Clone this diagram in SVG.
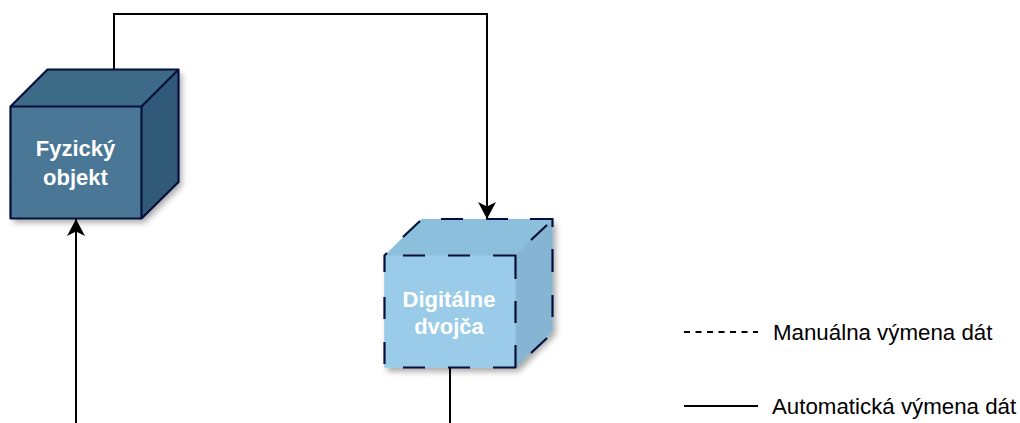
<svg xmlns="http://www.w3.org/2000/svg" width="1020" height="423" viewBox="0 0 1020 423">
<style>
.c{fill:none;stroke:#000;stroke-width:2}
.o{fill:none;stroke:#060f3c;stroke-width:2.200;stroke-linejoin:round}
.t{font-family:"Liberation Sans",Arial,sans-serif;font-weight:700;font-size:22px;fill:#fff;text-anchor:middle}
.l{font-family:"Liberation Sans",Arial,sans-serif;font-size:22.3px;fill:#000}
</style>
<defs>
<marker id="a" markerUnits="userSpaceOnUse" markerWidth="19" markerHeight="20" refX="17" refY="9.500" orient="auto"><path d="M0 .5L17 9.500L0 18.500L4.500 9.500Z" fill="#000"/></marker>
<filter id="s" x="-15%" y="-15%" width="135%" height="135%"><feDropShadow dx="3" dy="4" stdDeviation="3" flood-color="#000" flood-opacity=".35"/></filter>
</defs>
<g id="connectors">
<path class="c" d="M114 69V14H487V219" marker-end="url(#a)"/>
<path class="c" d="M76 423V219" marker-end="url(#a)"/>
<path class="c" d="M450 368V423"/>
</g>
<g id="fyzicky-objekt">
<path d="M10.500 106.500L47.500 69.500H178.500V182L141.500 218.500H10.500Z" fill="#3d6a87" filter="url(#s)"/>
<path d="M141.500 106.500L178.500 69.500V182L141.500 218.500Z" fill="#315a79"/>
<rect x="10.500" y="106.500" width="131" height="112" fill="#4a7795"/>
<path class="o" d="M10.500 106.500L47.500 69.500H178.500V182L141.500 218.500H10.500ZM10.500 106.500H141.500V218.500M141.500 106.500L178.500 69.500"/>
<text class="t" x="75.500" y="156">Fyzický</text>
<text class="t" x="75.500" y="185">objekt</text>
</g>
<g id="digitalne-dvojca">
<path d="M384.500 255.500L421.500 219H552.500V331L515.500 367.500H384.500Z" fill="#8bbfdc" filter="url(#s)"/>
<path d="M515.500 255.500L552.500 219V331L515.500 367.500Z" fill="#85b5d3"/>
<rect x="384.500" y="255.500" width="131" height="112" fill="#9acbe8"/>
<path class="o" d="M384.500 272V255.500L387 253M403 237L420 221M441 219H463M486 219H508M530 219H552.500V227M552.500 249V272M552.500 295V317M547 338L531 353M531 240L547 225M403 255.500H425M448 255.500H470M493 255.500H515.500V279M515.500 301V323M515.500 345V367.500H493M470 367.500H448M425 367.500H403M384.500 364V342M384.500 319V297"/>
<text class="t" x="449" y="307">Digitálne</text>
<text class="t" x="449" y="334">dvojča</text>
</g>
<g id="legend">
<path d="M684 332H758" fill="none" stroke="#000" stroke-width="2" stroke-dasharray="6 5.500"/>
<path d="M684 406H758" fill="none" stroke="#000" stroke-width="2"/>
<text class="l" x="773" y="340">Manuálna výmena dát</text>
<text class="l" x="772" y="414">Automatická výmena dát</text>
</g>
</svg>
